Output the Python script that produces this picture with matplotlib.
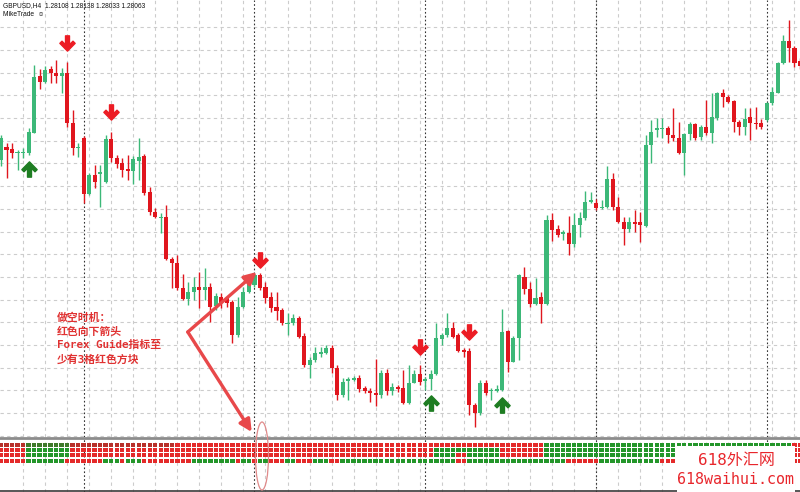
import numpy as np
import matplotlib
matplotlib.use('Agg')
import matplotlib.pyplot as plt
from matplotlib.path import Path
from matplotlib.patches import Rectangle, Ellipse
from matplotlib.lines import Line2D

# GBPUSD H4, prices given in pips above 1.2400
base = 1.2400
opens = [290, 303, 301, 297, 297, 297, 317, 374, 368, 381,
         377, 374, 377, 327, 302, 312, 256, 275, 276, 268,
         311, 292, 287, 281, 279, 289, 294, 258, 238, 232,
         233, 191, 187, 162, 151, 158, 163, 160, 163, 144,
         153, 152, 148, 115, 143, 158, 165, 175, 163, 153,
         143, 140, 126, 127, 132, 114, 85, 90, 96, 97,
         102, 82, 55, 69, 70, 72, 62, 59, 57, 55,
         77, 59, 63, 62, 47, 67, 76, 69, 71, 76,
         111, 115, 122, 115, 100, 99, 45, 37, 67, 59,
         59, 60, 119, 88, 112, 173, 161, 146, 153, 146,
         230, 221, 216, 217, 206, 225, 232, 248, 247, 242,
         243, 271, 243, 228, 221, 228, 228, 224, 305, 320,
         321, 322, 315, 312, 297, 316, 326, 313, 323, 317,
         332, 357, 353, 349, 328, 323, 333, 327, 327, 330,
         347, 357, 387, 409, 402, 389]
highs = [315, 307, 307, 300, 302, 322, 385, 381, 384, 384,
         390, 382, 388, 340, 307, 314, 277, 285, 285, 315,
         318, 295, 292, 295, 294, 312, 296, 263, 242, 237,
         245, 193, 195, 176, 168, 173, 178, 182, 167, 157,
         157, 153, 150, 153, 163, 173, 177, 177, 168, 158,
         158, 142, 137, 136, 134, 117, 93, 103, 103, 105,
         105, 85, 72, 73, 74, 75, 64, 62, 91, 80,
         81, 67, 65, 80, 85, 80, 85, 73, 80, 127,
         117, 137, 128, 117, 102, 102, 47, 70, 70, 62,
         65, 141, 120, 114, 176, 183, 168, 172, 158, 235,
         237, 225, 220, 234, 237, 238, 259, 258, 251, 250,
         284, 277, 253, 233, 233, 240, 238, 315, 330, 332,
         332, 324, 342, 328, 317, 328, 327, 325, 350, 357,
         358, 361, 355, 350, 330, 342, 342, 343, 331, 348,
         363, 388, 415, 430, 404, 392]
lows = [284, 272, 292, 280, 292, 295, 317, 361, 367, 367,
        367, 357, 323, 295, 293, 247, 255, 262, 243, 267,
        288, 282, 273, 270, 266, 270, 255, 235, 232, 217,
        190, 162, 160, 150, 145, 150, 142, 150, 128, 140,
        142, 143, 107, 113, 142, 157, 163, 160, 147, 138,
        130, 125, 115, 125, 112, 83, 72, 88, 93, 96,
        77, 50, 53, 50, 69, 58, 57, 48, 44, 52,
        55, 55, 58, 46, 46, 67, 65, 60, 60, 75,
        105, 113, 112, 98, 93, 35, 23, 35, 55, 50,
        58, 59, 78, 88, 90, 156, 143, 145, 127, 145,
        209, 213, 210, 195, 203, 213, 230, 247, 240, 241,
        242, 240, 227, 205, 218, 218, 208, 223, 287, 313,
        312, 307, 309, 296, 275, 310, 310, 310, 315, 307,
        330, 343, 347, 318, 315, 315, 310, 321, 321, 329,
        345, 357, 386, 388, 383, 381]
closes = [312, 300, 297, 298, 298, 318, 373, 368, 380, 377,
          374, 377, 327, 302, 303, 256, 275, 268, 278, 311,
          292, 286, 280, 279, 291, 293, 257, 238, 233, 233,
          191, 187, 162, 151, 158, 163, 160, 163, 143, 154,
          147, 147, 115, 143, 158, 168, 175, 162, 152, 142,
          139, 127, 127, 132, 113, 85, 90, 97, 98, 102,
          82, 55, 68, 71, 72, 61, 59, 57, 55, 77,
          59, 63, 61, 47, 67, 76, 68, 71, 76, 112,
          115, 122, 113, 99, 98, 45, 37, 67, 57, 60,
          61, 118, 88, 112, 175, 161, 146, 152, 146, 230,
          220, 215, 218, 206, 225, 232, 248, 250, 242, 243,
          271, 243, 228, 221, 228, 226, 225, 305, 318, 322,
          322, 315, 312, 297, 316, 326, 312, 323, 317, 333,
          357, 353, 348, 328, 323, 331, 327, 326, 323, 347,
          358, 387, 409, 402, 387, 384]

# signal arrows (bar index, level in pips)
down_idx = [12, 20, 47, 76, 85]
down_lvl = [407, 338, 190, 103, 118]
up_idx = [5, 78, 91]
up_lvl = [281, 47, 45]

# Forex Guide blocks, run lengths per row (R/G = darker, under the label text)
row1 = [('R', 5), ('G', 8), ('R', 19), ('r', 67), ('g', 45), ('r', 2)]
row2 = [('r', 5), ('g', 8), ('r', 66), ('g', 12), ('r', 8), ('g', 45), ('r', 2)]
row3 = [('r', 5), ('g', 8), ('r', 66), ('g', 4), ('r', 2), ('g', 6), ('r', 8),
        ('g', 45), ('r', 2)]
row4 = [('r', 5), ('g', 7), ('r', 7), ('g', 3), ('r', 1), ('g', 3), ('r', 9),
        ('g', 8), ('r', 1), ('g', 2), ('r', 1), ('g', 2), ('r', 3), ('g', 2),
        ('r', 3), ('g', 3), ('r', 2), ('g', 21), ('r', 2), ('g', 18), ('r', 6),
        ('g', 11), ('r', 3), ('g', 21), ('r', 2)]

week_sep = [15, 46, 77, 108, 139]

bull = '#3cb878'
bear = '#e0161e'
block_col = {'r': '#e42a2a', 'g': '#24962a', 'R': '#b8302a', 'G': '#3f7a2a'}

o = base + np.array(opens) / 1e4
h = base + np.array(highs) / 1e4
l = base + np.array(lows) / 1e4
c = base + np.array(closes) / 1e4
x = np.arange(len(o))
up = c >= o

fig = plt.figure(figsize=(8, 4.92), dpi=100)
ax = fig.add_axes([0, 55 / 492, 1, 437 / 492])
ax2 = fig.add_axes([0, 0, 1, 53 / 492])
xlim = (-0.18, 145.0)

# grid
for a in (ax, ax2):
    for gx in np.arange(4, 146, 4):
        a.axvline(gx, color='#cccccc', lw=0.8, ls=(0, (3, 3)), zorder=0)
    for sx in week_sep:
        a.axvline(sx, color='#333333', lw=0.8, ls=(0, (1.5, 2)), zorder=0.5)
for gy in np.arange(base + 0.04227, base + 0.0013, -0.00227):
    ax.axhline(gy, color='#cccccc', lw=0.8, ls=(0, (3, 3)), zorder=0)

# candles
colors = np.where(up, bull, bear)
ax.vlines(x, l, h, colors=colors, lw=1.0, zorder=2)
body_lo = np.minimum(o, c)
body_h = np.maximum(np.abs(c - o), 0.00008)
ax.bar(x, body_h, bottom=body_lo, width=0.74, color=colors, lw=0, zorder=3)

# signal arrows
down_verts = [(-0.13, 0.5), (0.13, 0.5), (0.13, -0.08), (0.36, 0.15), (0.5, 0.01),
              (0, -0.5), (-0.5, 0.01), (-0.36, 0.15), (-0.13, -0.08), (-0.13, 0.5)]
down_marker = Path(down_verts, closed=True)
up_marker = Path([(vx, -vy) for vx, vy in down_verts], closed=True)
ax.plot(down_idx, base + np.array(down_lvl) / 1e4, ls='none', marker=down_marker,
        markersize=11, color='#ec1c24', zorder=4)
ax.plot(up_idx, base + np.array(up_lvl) / 1e4, ls='none', marker=up_marker,
        markersize=11, color='#1e7d22', zorder=4)

ax.set_xlim(*xlim)
ax.set_ylim(base + 0.0013, base + 0.0450)
ax.axis('off')

# indicator sub-window
row_top = [4.0, 9.2, 14.4, 19.8]
for top, runs in zip(row_top, [row1, row2, row3, row4]):
    cols = []
    for key, n in runs:
        cols += [block_col[key]] * n
    ax2.bar(x, 3.7, bottom=top, width=0.8, color=cols, lw=0, zorder=2)
ax2.axhline(51.5, color='#3a3a3a', lw=1.2)
ax2.set_xlim(*xlim)
ax2.set_ylim(53, 0)
ax2.axis('off')

fig.add_artist(Line2D([0, 1], [54 / 492, 54 / 492], color='#8c8c8c', lw=2.0))

# header
hdr = dict(fontsize=4.8, family=['Liberation Sans', 'DejaVu Sans'], va='center', color='#111111')
fig.text(3 / 800, 1 - 6 / 492, 'GBPUSD,H4  1.28108 1.28138 1.28033 1.28063', **hdr)
fig.text(3 / 800, 1 - 15 / 492, 'MikeTrade  \u263a', **hdr)

# annotation
note = ['做空时机：', '红色向下箭头', 'Forex Guide指标至', '少有3格红色方块']
for k, line in enumerate(note):
    fig.text(57 / 800, 1 - (318 + 13.7 * k) / 492, line, color='#e03232', fontsize=7.8,
             fontweight='bold', family=['DejaVu Sans Mono', 'Noto Sans CJK SC'], va='center')
vertex = (33.9, base + 0.0118)
for tip in [(46.4, base + 0.0178), (45.5, base + 0.0018)]:
    ax.annotate('', xy=tip, xytext=vertex, annotation_clip=False,
                arrowprops=dict(arrowstyle='-|>', color='#e8484a', lw=2.4,
                                mutation_scale=18, shrinkA=0, shrinkB=0), zorder=6)
fig.add_artist(Ellipse((262 / 800, 1 - 456 / 492), 13 / 800, 68 / 492, fill=False,
                       edgecolor='#e08a8a', lw=0.9, zorder=6))

# watermark
fig.add_artist(Rectangle((677 / 800, 0), 118 / 800, 46 / 492, facecolor='white',
                         edgecolor='none', zorder=5))
wm = dict(color='#e8262c', family=['DejaVu Sans Mono', 'Noto Sans CJK SC'],
          ha='center', va='center', zorder=7)
fig.text(736 / 800, 1 - 461 / 492, '618外汇网', fontsize=11.5, **wm)
fig.text(736 / 800, 1 - 479 / 492, '618waihui.com', fontsize=10.8, **wm)

fig.savefig('out.png', dpi=100, facecolor='white')
